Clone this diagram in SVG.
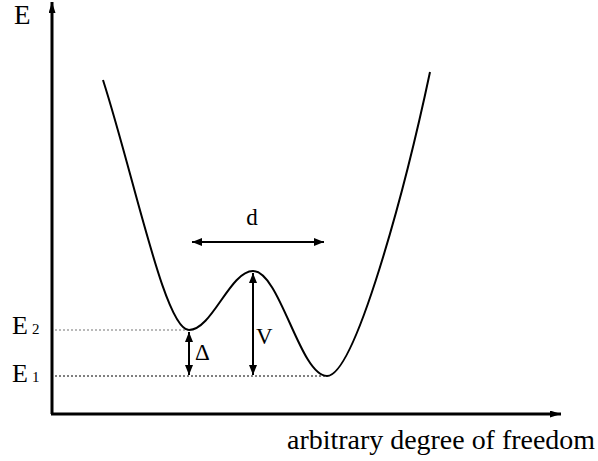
<svg xmlns="http://www.w3.org/2000/svg" width="598" height="461" viewBox="0 0 598 461">
<style>
text{font-family:"Liberation Serif","Times New Roman",serif;fill:#000}
.axis{stroke:#000;stroke-width:3;fill:none}
.arr{stroke:#000;stroke-width:2;fill:none}
.dot{stroke:#000;stroke-width:1;stroke-dasharray:2,2;fill:none}
.curve{stroke:#000;stroke-width:2;fill:none}
</style>
<defs>
<marker id="ah" viewBox="0 0 10 8" refX="10" refY="4" markerWidth="10" markerHeight="8" markerUnits="userSpaceOnUse" orient="auto-start-reverse">
<path d="M0,0 L10,4 L0,8 Z" fill="#000"/>
</marker>
<marker id="axh" viewBox="0 0 11 7" refX="11" refY="3.5" markerWidth="11" markerHeight="7" markerUnits="userSpaceOnUse" orient="auto">
<path d="M0,0 L11,3.5 L0,7 Z" fill="#000"/>
</marker>
</defs>
<g id="axes">
<path class="axis" d="M52,414 L52,2" marker-end="url(#axh)"/>
<path class="axis" d="M51,414 L561,414" marker-end="url(#axh)"/>
</g>
<g id="levels">
<line class="dot" x1="55" y1="330" x2="188" y2="330" stroke-opacity="0.55"/>
<line class="dot" x1="55" y1="376" x2="325" y2="376"/>
</g>
<g id="potential">
<path class="curve" d="M103,80 C135,180 165,330 189,330 C212,330 230,271 253,271 C280,271 300,376 327,376 C355,376 405,190 430,72"/>
</g>
<g id="connectors">
<line class="arr" x1="192" y1="242" x2="324" y2="242" marker-start="url(#ah)" marker-end="url(#ah)"/>
<line class="arr" x1="253" y1="273" x2="253" y2="375" marker-start="url(#ah)" marker-end="url(#ah)"/>
<line class="arr" x1="189" y1="332" x2="189" y2="375" marker-start="url(#ah)" marker-end="url(#ah)"/>
</g>
<g id="labels">
<text x="14" y="24" font-size="27">E</text>
<text x="12" y="334" font-size="26">E</text>
<text x="32" y="334" font-size="15">2</text>
<text x="12" y="382" font-size="26">E</text>
<text x="32" y="382" font-size="15">1</text>
<text x="252" y="225" font-size="23" text-anchor="middle">d</text>
<text x="256" y="344" font-size="23">V</text>
<text x="195" y="360" font-size="23">Δ</text>
<text x="287" y="449" font-size="28" textLength="308" lengthAdjust="spacingAndGlyphs">arbitrary degree of freedom</text>
</g>
</svg>
